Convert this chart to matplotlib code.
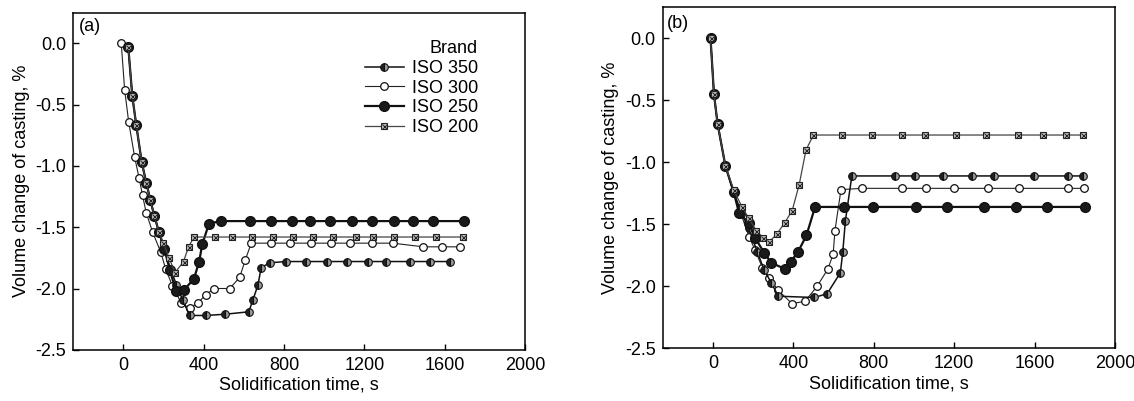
import matplotlib
matplotlib.use("Agg")
import matplotlib.pyplot as plt
import numpy as np

plt.rcParams['font.family'] = ['Liberation Sans', 'DejaVu Sans']
plt.rcParams['font.size'] = 13

labels = ['ISO 350', 'ISO 300', 'ISO 250', 'ISO 200']

""" panel (a) """
a_t_350 = [25, 45, 65, 92, 115, 135, 155, 178, 205, 235, 265, 295, 330, 411, 507, 625, 646, 671, 686, 730,
           810, 910, 1015, 1115, 1220, 1310, 1425, 1525, 1628]
a_v_350 = [-0.03, -0.43, -0.67, -0.97, -1.14, -1.28, -1.41, -1.54, -1.68, -1.84, -1.97, -2.09, -2.22, -2.22,
           -2.21, -2.19, -2.09, -1.97, -1.83, -1.79, -1.78, -1.78, -1.78, -1.78, -1.78, -1.78, -1.78, -1.78, -1.78]

a_t_300 = [-10, 7, 27, 57, 79, 96, 114, 146, 186, 211, 245, 289, 330, 370, 411, 454, 530, 579, 607, 637,
           736, 832, 935, 1035, 1130, 1240, 1341, 1494, 1586, 1675]
a_v_300 = [0.0, -0.38, -0.64, -0.93, -1.10, -1.24, -1.38, -1.54, -1.70, -1.84, -1.98, -2.12, -2.16, -2.12,
           -2.05, -2.00, -2.00, -1.91, -1.77, -1.63, -1.63, -1.63, -1.63, -1.63, -1.63, -1.63, -1.63, -1.66,
           -1.66, -1.66]

a_t_250 = [25, 45, 65, 92, 115, 135, 155, 178, 205, 232, 262, 304, 352, 378, 393, 427, 486, 629, 736, 839,
           929, 1030, 1138, 1236, 1348, 1441, 1543, 1696]
a_v_250 = [-0.03, -0.43, -0.67, -0.97, -1.14, -1.28, -1.41, -1.54, -1.68, -1.85, -2.02, -2.01, -1.92, -1.78,
           -1.64, -1.47, -1.45, -1.45, -1.45, -1.45, -1.45, -1.45, -1.45, -1.45, -1.45, -1.45, -1.45, -1.45]

a_t_200 = [25, 45, 65, 92, 115, 135, 155, 178, 200, 228, 258, 300, 325, 352, 456, 539, 643, 745, 843, 946,
           1043, 1160, 1245, 1347, 1450, 1555, 1690]
a_v_200 = [-0.03, -0.43, -0.67, -0.97, -1.14, -1.28, -1.41, -1.54, -1.63, -1.75, -1.87, -1.78, -1.66, -1.58,
           -1.58, -1.58, -1.58, -1.58, -1.58, -1.58, -1.58, -1.58, -1.58, -1.58, -1.58, -1.58, -1.58]

""" panel (b) """
b_t_350 = [-12, 5, 23, 62, 103, 140, 178, 220, 255, 290, 325, 504, 568, 634, 646, 659, 691, 905, 1003, 1145,
           1291, 1400, 1599, 1765, 1840]
b_v_350 = [0.0, -0.45, -0.69, -1.03, -1.24, -1.40, -1.53, -1.72, -1.87, -1.97, -2.08, -2.09, -2.06, -1.89,
           -1.72, -1.47, -1.11, -1.11, -1.11, -1.11, -1.11, -1.11, -1.11, -1.11, -1.11]

b_t_300 = [-12, 5, 23, 62, 103, 140, 180, 210, 246, 281, 322, 394, 459, 518, 572, 598, 607, 637, 744, 940,
           1061, 1199, 1368, 1524, 1765, 1845]
b_v_300 = [0.0, -0.45, -0.69, -1.03, -1.25, -1.42, -1.60, -1.71, -1.85, -1.93, -2.03, -2.14, -2.12, -2.00,
           -1.86, -1.74, -1.55, -1.22, -1.21, -1.21, -1.21, -1.21, -1.21, -1.21, -1.21, -1.21]

b_t_250 = [-12, 5, 23, 62, 103, 130, 178, 210, 255, 290, 358, 388, 424, 465, 508, 650, 794, 1011, 1163,
           1350, 1510, 1661, 1852]
b_v_250 = [0.0, -0.45, -0.69, -1.03, -1.24, -1.41, -1.49, -1.61, -1.73, -1.81, -1.86, -1.80, -1.72, -1.59,
           -1.36, -1.36, -1.36, -1.36, -1.36, -1.36, -1.36, -1.36, -1.36]

b_t_200 = [-12, 5, 23, 62, 103, 144, 178, 215, 251, 281, 317, 356, 394, 429, 463, 500, 641, 789, 940, 1056,
           1207, 1358, 1516, 1640, 1754, 1843]
b_v_200 = [0.0, -0.45, -0.69, -1.03, -1.22, -1.36, -1.45, -1.55, -1.61, -1.64, -1.58, -1.49, -1.39, -1.18,
           -0.90, -0.78, -0.78, -0.78, -0.78, -0.78, -0.78, -0.78, -0.78, -0.78, -0.78, -0.78]

xticks = [0, 400, 800, 1200, 1600, 2000]
yticks = [0.0, -0.5, -1.0, -1.5, -2.0, -2.5]


def draw(ax, series):
    (t350, v350), (t300, v300), (t250, v250), (t200, v200) = series
    h300 = ax.plot(t300, v300, '-', color='#222222', lw=0.8, marker='o', ms=5.5,
                   mfc='white', mec='#111111', mew=0.9, zorder=3)[0]
    h350 = ax.plot(t350, v350, '-', color='#111111', lw=1.1, marker='o', ms=5.5,
                   fillstyle='left', mfc='#222222', mfcalt='#9a9a9a', mec='#111111', mew=0.8, zorder=4)[0]
    h250 = ax.plot(t250, v250, '-', color='#111111', lw=1.6, marker='o', ms=7,
                   mfc='#1a1a1a', mec='#111111', zorder=5)[0]
    # ISO 200 drawn on top, as in the scan
    h200 = ax.plot(t200, v200, '-', color='#444444', lw=0.9, marker='s', ms=5,
                   mfc='#c0c0c0', mec='#222222', mew=0.8, zorder=6)[0]
    hx = ax.plot(t200, v200, ' ', marker='x', ms=3.6, mec='#222222', mew=0.7, zorder=6.1)[0]
    ax.set_xlim(-250, 2000)
    ax.set_ylim(-2.5, 0.25)
    ax.set_xticks(xticks)
    ax.set_yticks(yticks)
    ax.set_yticklabels(['%.1f' % v for v in yticks])
    ax.tick_params(direction='in', length=4, width=1, top=False, right=False, pad=5)
    for s in ax.spines.values():
        s.set_linewidth(1.1)
    ax.set_xlabel('Solidification time, s', labelpad=2)
    ax.set_ylabel('Volume change of casting, %', labelpad=4)
    return [h350, h300, h250, (h200, hx)]


fig = plt.figure(figsize=(11.34, 4.01), dpi=100)
ax1 = fig.add_axes([0.0644, 0.1277, 0.3986, 0.8406])
ax2 = fig.add_axes([0.5844, 0.1314, 0.3988, 0.8504])

handles = draw(ax1, [(a_t_350, a_v_350), (a_t_300, a_v_300), (a_t_250, a_v_250), (a_t_200, a_v_200)])
draw(ax2, [(b_t_350, b_v_350), (b_t_300, b_v_300), (b_t_250, b_v_250), (b_t_200, b_v_200)])

ax1.text(0.012, 0.985, '(a)', transform=ax1.transAxes, ha='left', va='top')
ax2.text(0.009, 0.977, '(b)', transform=ax2.transAxes, ha='left', va='top')

leg = ax1.legend(handles, labels, title='Brand', loc='upper left', bbox_to_anchor=(0.625, 0.945),
                 frameon=False, borderpad=0, handlelength=2.2, handletextpad=0.4, labelspacing=0.15,
                 fontsize=13, title_fontsize=13)
leg._legend_box.align = 'right'

fig.savefig('out.png', dpi=100)
